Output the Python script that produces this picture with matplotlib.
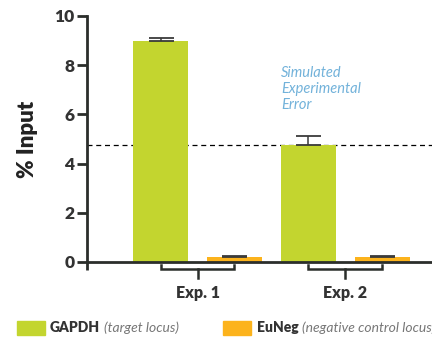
import numpy as np
import matplotlib
matplotlib.use("Agg")
import matplotlib.pyplot as plt
from matplotlib.patches import Rectangle

# ChIP-qPCR enrichment for two experiments
groups = ["Exp. 1", "Exp. 2"]
gapdh = [9.0, 4.76]
gapdh_err = [0.1, 0.35]
euneg = [0.2, 0.2]
euneg_err = [0.06, 0.06]
sim_error_level = 4.76

green = "#c3d52f"
orange = "#fcb31c"
dark = "#2b2e2b"

plt.rcParams['font.family'] = ['Lato', 'DejaVu Sans']

fig = plt.figure(figsize=(4.32, 3.37), dpi=100)
ax = fig.add_axes([87 / 432, 75 / 337, 345 / 432, 246 / 337])

x = np.arange(len(groups))
off = 0.25
w = 0.372
ax.bar(x - off, gapdh, w, color=green, zorder=2)
ax.bar(x + off, euneg, w, color=orange, zorder=2)
ax.errorbar(x - off, gapdh, yerr=[np.zeros(2), gapdh_err], fmt="none",
            ecolor="#3a3a3a", elinewidth=1.1, capsize=9, capthick=1.3, zorder=3)
ax.errorbar(x + off, euneg, yerr=[np.zeros(2), euneg_err], fmt="none",
            ecolor="#3a3a3a", elinewidth=1.1, capsize=9, capthick=1.3, zorder=3)

ax.axhline(sim_error_level, color="black", lw=0.9, ls=(0, (4, 3)), zorder=1)

ax.set_xlim(-0.747, 1.585)
ax.set_ylim(0, 10)
ax.set_yticks([0, 2, 4, 6, 8, 10])
ax.set_xticks([])
for s in ["top", "right"]:
    ax.spines[s].set_visible(False)
for s in ["left", "bottom"]:
    ax.spines[s].set_color(dark)
    ax.spines[s].set_linewidth(2.0)
ax.tick_params(axis="y", length=7, width=2.0, color=dark, pad=2,
               labelsize=12.5, labelcolor="#333333")
for lab in ax.get_yticklabels():
    lab.set_fontweight("heavy")

# y spine runs a little below zero
ax.plot([-0.747, -0.747], [0, -0.33], color=dark, lw=2.0, clip_on=False,
        solid_capstyle="butt")

# group brackets under each experiment
for xi, name in zip(x, groups):
    bx = [xi - off, xi - off, xi + off, xi + off]
    by = [-0.12, -0.3, -0.3, -0.12]
    ax.plot(bx, by, color=dark, lw=1.8, clip_on=False, solid_joinstyle="miter")
    ax.plot([xi, xi], [-0.3, -0.65], color=dark, lw=1.8, clip_on=False)
    ax.text(xi, -1.28, name, ha="center", va="center", fontsize=11.5,
            fontweight="heavy", color="#333333", clip_on=False)

ax.set_ylabel("% Input", fontsize=16, fontweight="heavy", color="#222222",
              labelpad=12)

ax.text(0.565, 7.98, "Simulated\nExperimental\nError", ha="left", va="top",
        fontsize=10.5, style="italic", color="#72b2da", linespacing=1.2)

# legend drawn along the bottom
fig.patches.append(Rectangle((17 / 432, 2 / 337), 28 / 432, 14 / 337,
                             transform=fig.transFigure, color=green))
fig.text(50 / 432, 9 / 337, "GAPDH", fontsize=10, fontweight="heavy",
         color="#333333", va="center")
fig.text(104 / 432, 9 / 337, "(target locus)", fontsize=10, style="italic",
         color="#777777", va="center")
fig.patches.append(Rectangle((223 / 432, 2 / 337), 28 / 432, 14 / 337,
                             transform=fig.transFigure, color=orange))
fig.text(257 / 432, 9 / 337, "EuNeg", fontsize=10, fontweight="heavy",
         color="#333333", va="center")
fig.text(302 / 432, 9 / 337, "(negative control locus)", fontsize=10,
         style="italic", color="#777777", va="center")

fig.savefig("out.png", dpi=100)
